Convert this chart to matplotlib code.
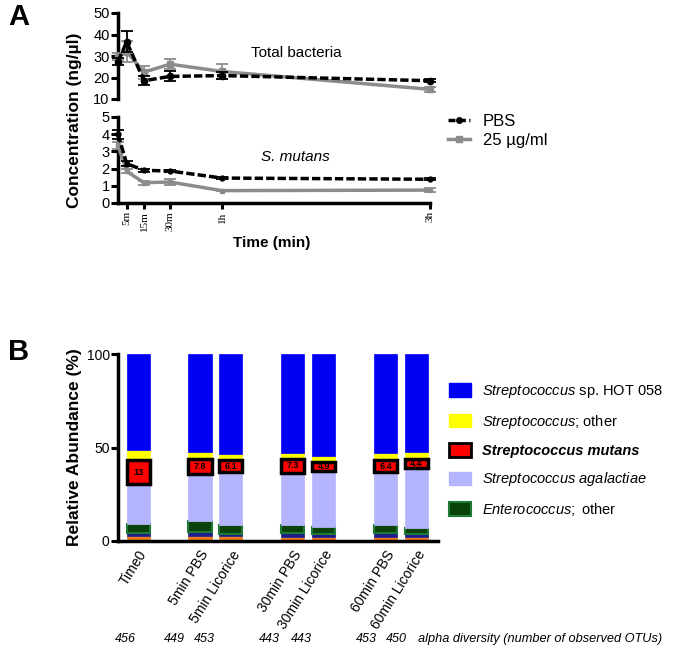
import matplotlib
matplotlib.use('Agg')
import matplotlib.pyplot as plt
from matplotlib.patches import Patch
from matplotlib.lines import Line2D
import numpy as np

plt.rcParams['font.family'] = ['Liberation Sans', 'DejaVu Sans']
plt.rcParams['mathtext.fontset'] = 'custom'
plt.rcParams['mathtext.rm'] = 'Liberation Sans'
plt.rcParams['mathtext.it'] = 'Liberation Sans:italic'
plt.rcParams['mathtext.bf'] = 'Liberation Sans:bold'

# ---- panel A data ----
time_min = [0, 5, 15, 30, 60, 180]
time_ticks = [5, 15, 30, 60, 180]
time_labels = ['5m', '15m', '30m', '1h', '3h']

total_pbs = [27.4, 36.6, 18.5, 20.5, 20.9, 18.5]
total_pbs_err = [1.5, 4.8, 2.0, 2.3, 1.5, 0.8]
total_lic = [29.7, 32.0, 22.5, 26.2, 22.8, 14.5]
total_lic_err = [1.5, 5.0, 3.0, 2.3, 3.4, 1.2]

smut_pbs = [4.0, 2.29, 1.9, 1.86, 1.45, 1.38]
smut_pbs_err = [0.25, 0.15, 0.08, 0.08, 0.06, 0.05]
smut_lic = [3.35, 1.84, 1.18, 1.22, 0.72, 0.75]
smut_lic_err = [0.2, 0.12, 0.12, 0.15, 0.05, 0.1]

# ---- panel B data ----
samples = ['Time0', '5min PBS', '5min Licorice', '30min PBS', '30min Licorice',
           '60min PBS', '60min Licorice']
positions = [0, 2, 3, 5, 6, 8, 9]
orange_taxa = [2.5, 2.8, 2.5, 2.3, 2.3, 2.3, 2.2]
navy_taxa = [1.8, 2.2, 1.3, 1.8, 1.5, 1.8, 1.3]
enterococcus = [5.0, 5.7, 5.0, 4.5, 3.6, 4.5, 3.3]
agalactiae = [21.0, 25.2, 28.2, 27.9, 29.8, 28.3, 32.4]
mutans = [13, 7.8, 6.1, 7.3, 4.9, 6.4, 4.4]
mutans_labels = ['13', '7.8', '6.1', '7.3', '4.9', '6.4', '4.4']
strep_other = [5.5, 3.8, 3.4, 3.5, 3.4, 4.0, 3.9]
hot058 = [100 - sum(v) for v in zip(orange_taxa, navy_taxa, enterococcus,
                                    agalactiae, mutans, strep_other)]

alpha_div = ['456', '449', '453', '443', '443', '453', '450']
alpha_x = [125, 174, 204, 269, 301, 366, 396]

fig = plt.figure(figsize=(6.81, 6.53), dpi=100)
W, H = 681, 653


def ax_rect(x0, y0, x1, y1):
    return [x0 / W, 1 - y1 / H, (x1 - x0) / W, (y1 - y0) / H]


def style_axis(ax):
    for s in ['top', 'right']:
        ax.spines[s].set_visible(False)
    for s in ['left', 'bottom']:
        ax.spines[s].set_linewidth(2.5)
    ax.tick_params(width=2.2, length=5, labelsize=10.5, pad=1)


grey = '#8c8c8c'
dash = (0, (2.4, 0.9))

# top: total bacteria
ax1 = fig.add_axes(ax_rect(118, 13, 430, 99))
ax1.errorbar(time_min, total_lic, yerr=total_lic_err, color=grey, marker='s', ms=4,
             lw=2.5, elinewidth=1.3, capsize=4, capthick=1.3, clip_on=False, zorder=3)
ax1.errorbar(time_min, total_pbs, yerr=total_pbs_err, color='black', marker='o', ms=4.5,
             lw=2.5, ls=dash, elinewidth=1.3, capsize=4, capthick=1.3,
             clip_on=False, zorder=4)
ax1.set_xlim(0, 180)
ax1.set_ylim(10, 50)
ax1.set_yticks([10, 20, 30, 40, 50])
style_axis(ax1)
ax1.spines['bottom'].set_visible(False)
ax1.set_xticks([])
ax1.text(0.57, 0.535, 'Total bacteria', fontsize=11, ha='center', va='center',
         transform=ax1.transAxes)

# bottom: S. mutans
ax2 = fig.add_axes(ax_rect(118, 117, 430, 203))
ax2.errorbar(time_min, smut_lic, yerr=smut_lic_err, color=grey, marker='s', ms=3,
             lw=2.5, elinewidth=1.3, capsize=4, capthick=1.3, clip_on=False, zorder=3)
ax2.errorbar(time_min, smut_pbs, yerr=smut_pbs_err, color='black', marker='o', ms=3.5,
             lw=2.5, ls=dash, elinewidth=1.3, capsize=4, capthick=1.3,
             clip_on=False, zorder=4)
ax2.set_xlim(0, 180)
ax2.set_ylim(0, 5)
ax2.set_yticks([0, 1, 2, 3, 4, 5])
style_axis(ax2)
ax2.set_xticks(time_ticks)
ax2.set_xticklabels(time_labels, rotation=90, family='Liberation Serif', fontsize=8)
ax2.tick_params(axis='x', length=4, pad=2)
ax2.text(0.57, 0.535, 'S. mutans', style='italic', fontsize=11, ha='center', va='center',
         transform=ax2.transAxes)

fig.text(75 / W, 1 - 120 / H, 'Concentration (ng/\u00b5l)', rotation=90, fontsize=12.5,
         fontweight='bold', ha='center', va='center')
fig.text(272 / W, 1 - 243 / H, 'Time (min)', fontsize=11, fontweight='bold',
         ha='center', va='center')
fig.text(8 / W, 1 - 17 / H, 'A', fontsize=21, fontweight='bold', va='center')

legA = [Line2D([], [], color='black', marker='o', ms=4, lw=2.5, ls=(0, (2, 1))),
        Line2D([], [], color=grey, marker='s', ms=4, lw=2.5)]
fig.legend(legA, ['PBS', '25 \u00b5g/ml'], loc='center left',
           bbox_to_anchor=(433 / W, 1 - 131 / H), frameon=False, fontsize=12,
           handlelength=1.3, handletextpad=0.8, labelspacing=0.25)

# ---- panel B ----
axb = fig.add_axes(ax_rect(118, 354, 438, 541))
bar_w = 0.75
layers = [
    (orange_taxa, '#f07b1e', '#f07b1e', 0.5),
    (navy_taxa, '#1c1c8c', '#1c1c8c', 0.5),
    (enterococcus, '#0b420b', '#1f7a35', 1.5),
    (agalactiae, '#b4b4ff', '#b4b4ff', 0.5),
    (mutans, '#ff0000', 'black', 2.5),
    (strep_other, '#ffff00', '#ffff00', 0.5),
    (hot058, '#0000f5', '#0000f5', 0.5),
]
bottom = np.zeros(len(samples))
mut_bottom = None
for vals, fc, ec, lw in layers:
    if vals is mutans:
        mut_bottom = bottom.copy()
    axb.bar(positions, vals, width=bar_w, bottom=bottom, color=fc, edgecolor=ec,
            linewidth=lw, zorder=3 if vals is mutans else 2)
    bottom = bottom + np.array(vals)

for p, b, v, lab in zip(positions, mut_bottom, mutans, mutans_labels):
    axb.text(p, b + v / 2, lab, fontsize=6.5, fontweight='bold', ha='center',
             va='center', zorder=4)

axb.set_xlim(-0.65, 9.7)
axb.set_ylim(0, 100)
axb.set_yticks([0, 50, 100])
style_axis(axb)
axb.tick_params(axis='y', labelsize=10)
axb.set_xticks(positions)
axb.set_xticklabels(samples, rotation=58, ha='right', va='top',
                    rotation_mode='anchor', fontsize=10)
axb.tick_params(axis='x', length=0, pad=5)
axb.set_ylabel('Relative Abundance (%)', fontsize=12.5, fontweight='bold', labelpad=3)
fig.text(8 / W, 1 - 352 / H, 'B', fontsize=21, fontweight='bold', va='center')

legB_handles = [
    Patch(facecolor='#0000f5', edgecolor='#0000f5'),
    Patch(facecolor='#ffff00', edgecolor='#ffff00'),
    Patch(facecolor='#ff0000', edgecolor='black', linewidth=2),
    Patch(facecolor='#b4b4ff', edgecolor='#b4b4ff'),
    Patch(facecolor='#0b420b', edgecolor='#1f7a35', linewidth=1.5),
]
legB_labels = [r'$\mathit{Streptococcus}$ sp. HOT 058',
               r'$\mathit{Streptococcus}$; other',
               'Streptococcus mutans',
               r'$\mathit{Streptococcus\ agalactiae}$',
               r'$\mathit{Enterococcus;}$ other']
legB = fig.legend(legB_handles, legB_labels, loc='upper left',
                  bbox_to_anchor=(436 / W, 1 - 370 / H), frameon=False, fontsize=10.5,
                  handlelength=1.5, handleheight=1.05, handletextpad=0.75,
                  labelspacing=0.86)
t = legB.get_texts()[2]
t.set_fontweight('bold')
t.set_fontstyle('italic')

for xp, val in zip(alpha_x, alpha_div):
    fig.text(xp / W, 1 - 639 / H, val, style='italic', fontsize=9, ha='center',
             va='center')
fig.text(418 / W, 1 - 639 / H, 'alpha diversity (number of observed OTUs)',
         style='italic', fontsize=9.2, ha='left', va='center')

fig.savefig('out.png', dpi=100)
